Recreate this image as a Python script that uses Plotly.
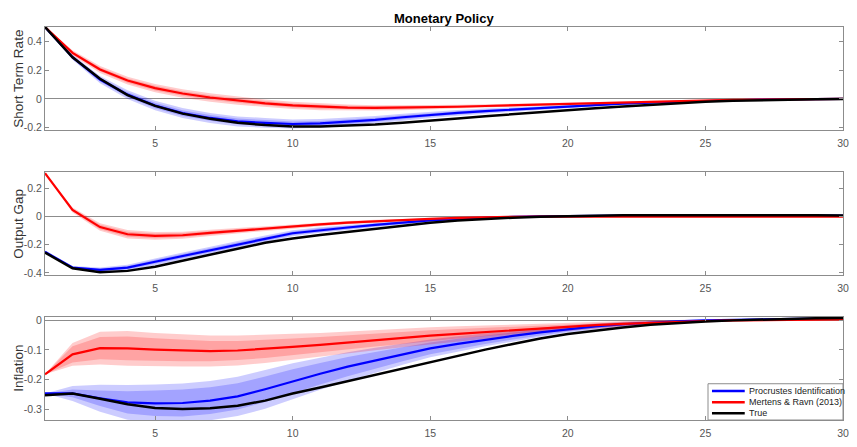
import plotly.graph_objects as go

# Impulse responses to a monetary policy shock, horizons 1..30
horizon = list(range(1, 31))

# ---- Short term rate ----
rate_true = [0.50, 0.29, 0.14, 0.027, -0.048, -0.102, -0.138, -0.166, -0.181, -0.191,
             -0.192, -0.187, -0.178, -0.165, -0.152, -0.136, -0.120, -0.105, -0.091, -0.078,
             -0.065, -0.053, -0.041, -0.030, -0.020, -0.013, -0.008, -0.004, -0.002, 0.0]
rate_procrustes = [0.50, 0.29, 0.135, 0.03, -0.045, -0.098, -0.132, -0.156, -0.166, -0.174,
                   -0.170, -0.160, -0.145, -0.127, -0.110, -0.096, -0.084, -0.073, -0.062, -0.051,
                   -0.042, -0.033, -0.025, -0.018, -0.013, -0.009, -0.005, -0.003, -0.001, 0.0]
rate_mertens = [0.50, 0.32, 0.205, 0.128, 0.075, 0.038, 0.010, -0.012, -0.030, -0.045,
                -0.055, -0.060, -0.062, -0.061, -0.058, -0.054, -0.049, -0.044, -0.039, -0.033,
                -0.028, -0.023, -0.018, -0.013, -0.009, -0.006, -0.004, -0.002, -0.001, 0.0]
rate_procrustes_in = [0, 0.010, 0.014, 0.017, 0.019, 0.020, 0.020, 0.020, 0.019, 0.018,
                      0.017, 0.016, 0.015, 0.014, 0.012, 0.011, 0.010, 0.009, 0.008, 0.007,
                      0.006, 0.005, 0.004, 0.003, 0.003, 0.002, 0.002, 0.001, 0.001, 0.0]
rate_procrustes_out = [0, 0.017, 0.025, 0.030, 0.033, 0.035, 0.035, 0.035, 0.034, 0.032,
                       0.030, 0.028, 0.026, 0.024, 0.022, 0.020, 0.018, 0.016, 0.014, 0.012,
                       0.010, 0.008, 0.007, 0.005, 0.004, 0.003, 0.002, 0.002, 0.001, 0.0]
rate_mertens_in = [0, 0.010, 0.013, 0.015, 0.016, 0.016, 0.016, 0.015, 0.015, 0.014,
                   0.013, 0.012, 0.011, 0.010, 0.009, 0.008, 0.007, 0.006, 0.005, 0.005,
                   0.004, 0.003, 0.003, 0.002, 0.002, 0.001, 0.001, 0.001, 0.0, 0.0]
rate_mertens_out = [0, 0.018, 0.024, 0.027, 0.029, 0.029, 0.029, 0.028, 0.027, 0.025,
                    0.023, 0.021, 0.019, 0.017, 0.016, 0.014, 0.012, 0.011, 0.009, 0.008,
                    0.007, 0.006, 0.005, 0.004, 0.003, 0.002, 0.002, 0.001, 0.001, 0.0]

# ---- Output gap ----
gap_true = [-0.256, -0.367, -0.395, -0.386, -0.356, -0.312, -0.270, -0.228, -0.186, -0.155,
            -0.130, -0.107, -0.084, -0.062, -0.043, -0.028, -0.016, -0.007, 0.0, 0.005,
            0.008, 0.010, 0.011, 0.012, 0.012, 0.012, 0.012, 0.011, 0.010, 0.009]
gap_procrustes = [-0.25, -0.362, -0.379, -0.363, -0.321, -0.279, -0.240, -0.198, -0.158, -0.118,
                  -0.095, -0.077, -0.058, -0.041, -0.026, -0.015, -0.007, -0.002, 0.002, 0.005,
                  0.007, 0.009, 0.010, 0.011, 0.011, 0.011, 0.011, 0.010, 0.009, 0.008]
gap_mertens = [0.31, 0.048, -0.074, -0.125, -0.137, -0.132, -0.115, -0.099, -0.084, -0.070,
               -0.055, -0.042, -0.032, -0.023, -0.015, -0.009, -0.004, -0.001, 0.0, 0.0,
               0.001, 0.001, 0.001, 0.001, 0.001, 0.001, 0.001, 0.001, 0.001, 0.001]
gap_procrustes_in = [0, 0.006, 0.010, 0.012, 0.014, 0.015, 0.015, 0.015, 0.014, 0.013,
                     0.012, 0.011, 0.010, 0.009, 0.008, 0.007, 0.006, 0.005, 0.004, 0.004,
                     0.003, 0.003, 0.002, 0.002, 0.002, 0.001, 0.001, 0.001, 0.001, 0.001]
gap_procrustes_out = [0, 0.010, 0.017, 0.021, 0.024, 0.025, 0.025, 0.025, 0.024, 0.022,
                      0.020, 0.018, 0.017, 0.015, 0.013, 0.012, 0.010, 0.009, 0.007, 0.006,
                      0.005, 0.005, 0.004, 0.003, 0.003, 0.002, 0.002, 0.002, 0.001, 0.001]
gap_mertens_in = [0, 0.010, 0.016, 0.018, 0.017, 0.015, 0.013, 0.011, 0.010, 0.009,
                  0.008, 0.007, 0.006, 0.005, 0.004, 0.003, 0.003, 0.002, 0.002, 0.002,
                  0.001, 0.001, 0.001, 0.001, 0.001, 0.001, 0.001, 0.001, 0.001, 0.001]
gap_mertens_out = [0, 0.018, 0.027, 0.030, 0.028, 0.025, 0.022, 0.019, 0.017, 0.015,
                   0.013, 0.011, 0.010, 0.008, 0.007, 0.006, 0.005, 0.004, 0.003, 0.003,
                   0.002, 0.002, 0.002, 0.001, 0.001, 0.001, 0.001, 0.001, 0.001, 0.001]

# ---- Inflation ----
infl_true = [-0.252, -0.246, -0.264, -0.282, -0.295, -0.298, -0.296, -0.287, -0.270, -0.246,
             -0.226, -0.205, -0.184, -0.162, -0.140, -0.119, -0.099, -0.080, -0.062, -0.047,
             -0.035, -0.025, -0.016, -0.010, -0.005, -0.001, 0.002, 0.004, 0.006, 0.007]
infl_procrustes = [-0.246, -0.246, -0.262, -0.276, -0.279, -0.278, -0.270, -0.256, -0.232, -0.205,
                   -0.180, -0.156, -0.135, -0.114, -0.095, -0.080, -0.066, -0.053, -0.041, -0.030,
                   -0.021, -0.014, -0.008, -0.004, -0.001, 0.001, 0.003, 0.004, 0.005, 0.005]
infl_mertens = [-0.182, -0.115, -0.094, -0.095, -0.099, -0.102, -0.104, -0.102, -0.097, -0.090,
                -0.083, -0.075, -0.067, -0.060, -0.052, -0.046, -0.040, -0.034, -0.028, -0.022,
                -0.017, -0.013, -0.009, -0.006, -0.003, -0.001, 0.0, 0.001, 0.001, 0.002]
infl_procrustes_in = [0, 0.013, 0.026, 0.037, 0.043, 0.045, 0.045, 0.044, 0.043, 0.040,
                      0.036, 0.032, 0.028, 0.024, 0.020, 0.017, 0.014, 0.012, 0.010, 0.008,
                      0.006, 0.005, 0.004, 0.003, 0.003, 0.002, 0.002, 0.002, 0.001, 0.001]
infl_procrustes_out = [0, 0.025, 0.045, 0.058, 0.063, 0.065, 0.066, 0.066, 0.065, 0.060,
                       0.054, 0.048, 0.042, 0.036, 0.030, 0.026, 0.022, 0.018, 0.015, 0.012,
                       0.010, 0.008, 0.006, 0.005, 0.004, 0.003, 0.003, 0.002, 0.002, 0.001]
infl_mertens_in = [0, 0.027, 0.037, 0.040, 0.038, 0.036, 0.034, 0.032, 0.030, 0.028,
                   0.026, 0.024, 0.022, 0.020, 0.018, 0.016, 0.014, 0.012, 0.010, 0.009,
                   0.007, 0.006, 0.005, 0.004, 0.003, 0.003, 0.002, 0.002, 0.001, 0.001]
infl_mertens_out = [0, 0.038, 0.055, 0.058, 0.056, 0.054, 0.052, 0.050, 0.047, 0.044,
                    0.040, 0.037, 0.034, 0.031, 0.028, 0.025, 0.022, 0.019, 0.016, 0.014,
                    0.012, 0.010, 0.008, 0.006, 0.005, 0.004, 0.003, 0.003, 0.002, 0.002]

panel_titles = ["Short Term Rate", "Output Gap", "Inflation"]
panel_ranges = [[-0.215, 0.5], [-0.415, 0.318], [-0.335, 0.01]]
panel_ticks = [[-0.2, 0, 0.2, 0.4], [-0.4, -0.2, 0, 0.2], [-0.3, -0.2, -0.1, 0]]
x_ticks = [5, 10, 15, 20, 25, 30]

series_names = ["Procrustes Identification", "Mertens & Ravn (2013)", "True"]
BLUE, RED, BLACK = "#0000ff", "#ff0000", "#000000"
series_colors = [BLUE, RED, BLACK]
BAND_BLUE = "rgba(0,0,255,0.2)"
BAND_RED = "rgba(255,0,0,0.2)"
AXIS_GRAY = "#8c8c8c"

panels = [
    (rate_true, rate_procrustes, rate_mertens,
     rate_procrustes_in, rate_procrustes_out, rate_mertens_in, rate_mertens_out),
    (gap_true, gap_procrustes, gap_mertens,
     gap_procrustes_in, gap_procrustes_out, gap_mertens_in, gap_mertens_out),
    (infl_true, infl_procrustes, infl_mertens,
     infl_procrustes_in, infl_procrustes_out, infl_mertens_in, infl_mertens_out),
]

# Figure geometry in pixels
W, H = 857, 447
ML, MR, MT, MB = 45, 8, 27, 19
PW, PH = W - ML - MR, H - MT - MB


def px_x(px):
    return (px - ML) / PW


def px_y(py):
    return (H - MB - py) / PH


# Panel positions (top, bottom) in pixels
panel_px = [(27, 132), (175, 280), (323, 428)]
domains = [[px_y(b), px_y(t)] for t, b in panel_px]

FONT = "Arial, Liberation Sans, Helvetica, sans-serif"
fig = go.Figure()


def band(x, mid, spread, color, xa, ya):
    upper = [m + s for m, s in zip(mid, spread)]
    lower = [m - s for m, s in zip(mid, spread)]
    return go.Scatter(
        x=x + x[::-1], y=upper + lower[::-1], fill="toself", fillcolor=color,
        line=dict(width=0), mode="lines", hoverinfo="skip", showlegend=False,
        xaxis=xa, yaxis=ya)


for i, (true_, proc, mert, p_in, p_out, m_in, m_out) in enumerate(panels):
    suffix = "" if i == 0 else str(i + 1)
    xa, ya = "x" + suffix, "y" + suffix
    fig.add_trace(band(horizon, proc, p_out, BAND_BLUE, xa, ya))
    fig.add_trace(band(horizon, proc, p_in, BAND_BLUE, xa, ya))
    fig.add_trace(band(horizon, mert, m_out, BAND_RED, xa, ya))
    fig.add_trace(band(horizon, mert, m_in, BAND_RED, xa, ya))
    for vals, name, color, w in [(proc, series_names[0], BLUE, 2.2),
                                 (mert, series_names[1], RED, 2.2),
                                 (true_, series_names[2], BLACK, 2.5)]:
        fig.add_trace(go.Scatter(
            x=horizon, y=vals, mode="lines", name=name,
            line=dict(color=color, width=w), showlegend=False,
            xaxis=xa, yaxis=ya))

    axis_common = dict(showline=True, linecolor=AXIS_GRAY, linewidth=1, mirror="ticks",
                       ticks="inside", ticklen=4, tickcolor=AXIS_GRAY, showgrid=False,
                       tickfont=dict(family=FONT, size=10.5, color="#555555"))
    fig.layout["xaxis" + suffix] = dict(
        axis_common, range=[1, 30], tickvals=x_ticks, zeroline=False,
        anchor=ya, domain=[0, 1], ticklabelstandoff=3)
    fig.layout["yaxis" + suffix] = dict(
        axis_common, range=panel_ranges[i], tickvals=panel_ticks[i],
        ticktext=[f"{v:g}" for v in panel_ticks[i]],
        zeroline=True, zerolinecolor=AXIS_GRAY, zerolinewidth=1,
        anchor=xa, domain=domains[i])
    # vertical axis label
    t, b = panel_px[i]
    fig.add_annotation(text=panel_titles[i], xref="paper", yref="paper",
                       x=px_x(18), y=px_y((t + b) / 2), textangle=-90,
                       xanchor="center", yanchor="middle", showarrow=False,
                       font=dict(family=FONT, size=13.5, color="#333333"))

fig.add_annotation(text="<b>Monetary Policy</b>", xref="paper", yref="paper",
                   x=0.5, y=px_y(18), yanchor="middle", showarrow=False,
                   font=dict(family=FONT, size=13, color="#000000"))

# Compact legend box in the lower-right corner of the inflation panel
legend_box = (713, 391, 849, 428)
fig.add_shape(type="rect", xref="paper", yref="paper",
              x0=px_x(legend_box[0]), x1=px_x(legend_box[2]),
              y0=px_y(legend_box[3]), y1=px_y(legend_box[1]),
              line=dict(color=AXIS_GRAY, width=1), fillcolor="white", layer="above")
for k, (name, color) in enumerate(zip(series_names, series_colors)):
    row_y = 398.5 + k * 11.3
    fig.add_shape(type="line", xref="paper", yref="paper",
                  x0=px_x(717), x1=px_x(750), y0=px_y(row_y), y1=px_y(row_y),
                  line=dict(color=color, width=2.5), layer="above")
    fig.add_annotation(text=name, xref="paper", yref="paper",
                       x=px_x(752), y=px_y(row_y), xanchor="left", yanchor="middle",
                       showarrow=False,
                       font=dict(family=FONT, size=9, color="#222222"))

fig.update_layout(
    width=W, height=H,
    margin=dict(l=ML, r=MR, t=MT, b=MB),
    paper_bgcolor="white", plot_bgcolor="white",
    font=dict(family=FONT),
    showlegend=False,
)

fig.write_html("out.html")
